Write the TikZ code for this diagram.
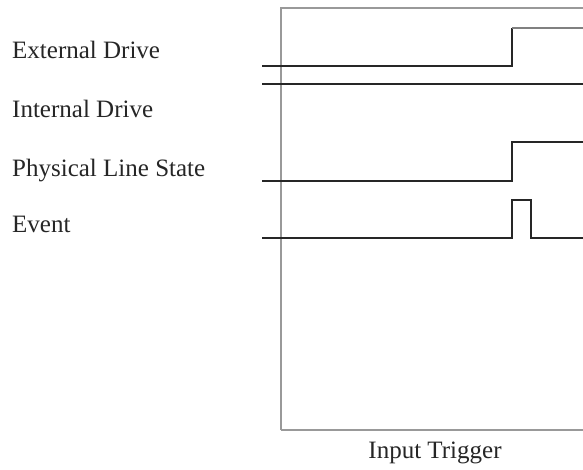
\documentclass[tikz,border=0pt]{standalone}
\usepackage{fontspec}
\setmainfont{Liberation Serif}
\begin{document}
\begin{tikzpicture}[x=1pt,y=-1pt,
  lbl/.style={anchor=base west,inner sep=0pt,font=\fontsize{25}{30}\selectfont,text=black!85},
  sig/.style={draw=black!85,line width=1.4pt},
  frame/.style={draw=black!40,line width=1.4pt}]
\clip (0,0) rectangle (583,470);
\fill[white] (0,0) rectangle (583,470);
% frame
\draw[frame] (281,430) -- (281,8) -- (600,8);
\draw[frame] (281,430) -- (600,430);
% labels
\node[lbl] (ext) at (12,59) {External Drive};
\node[lbl] (int) at (12,118) {Internal Drive};
\node[lbl] (phy) at (12,177) {Physical Line State};
\node[lbl] (evt) at (12,233) {Event};
\node[anchor=base,inner sep=0pt,font=\fontsize{25}{30}\selectfont,text=black!85] (trig) at (435,458) {Input Trigger};
% signals
\draw[sig] (262,66) -- (512,66) -- (512,28);
\draw[draw=black!50,line width=2pt] (512,28) -- (600,28);
\draw[sig] (262,84) -- (600,84);
\draw[sig] (262,181) -- (512,181) -- (512,142) -- (600,142);
\draw[sig] (262,238) -- (512,238) -- (512,200) -- (531,200) -- (531,238) -- (600,238);
\end{tikzpicture}
\end{document}
